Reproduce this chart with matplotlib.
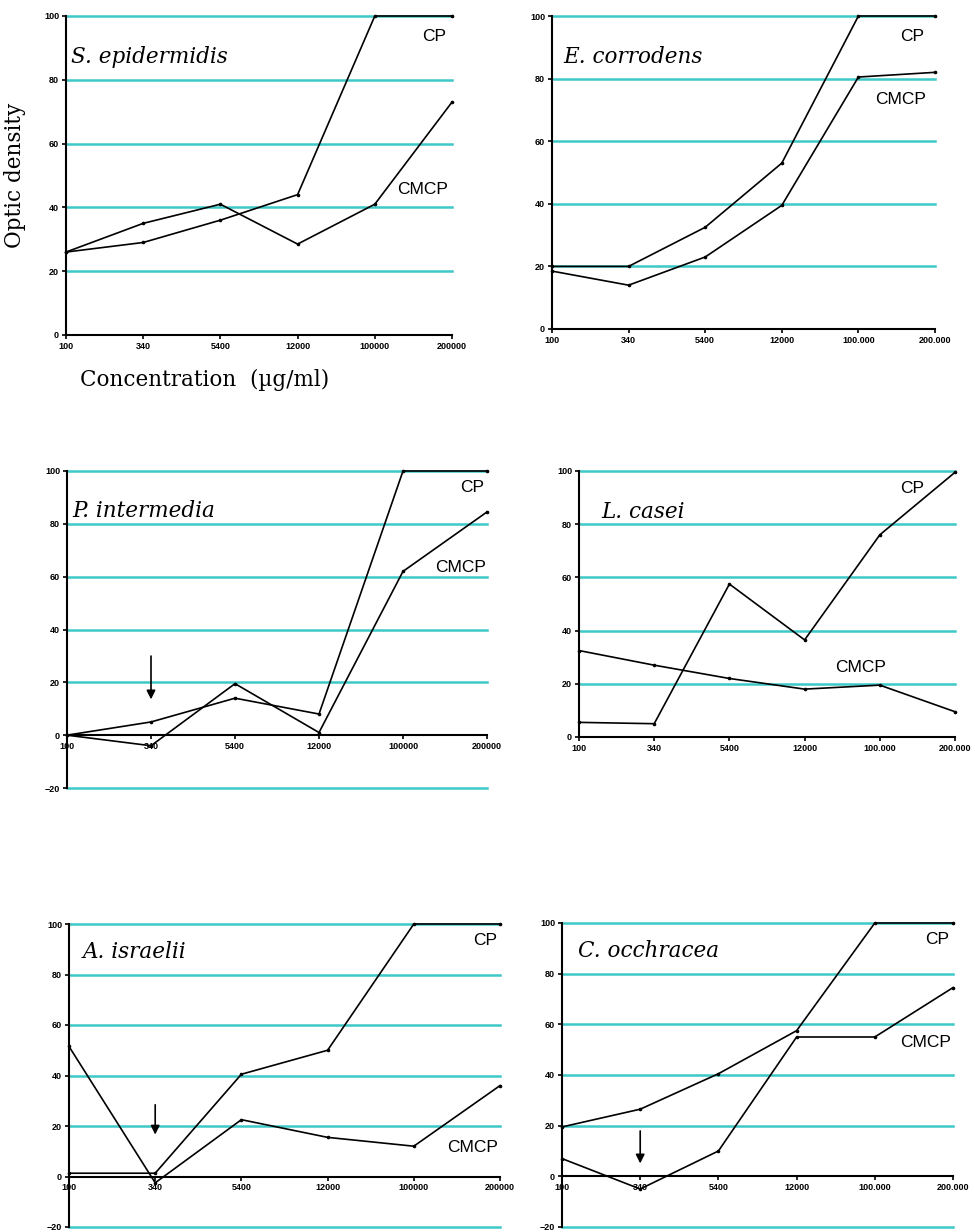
import matplotlib
matplotlib.use("Agg")
import matplotlib.pyplot as plt
import numpy as np

# categories (concentration, ug/ml)
conc_left = ["100", "340", "5400", "12000", "100000", "200000"]
conc_right = ["100", "340", "5400", "12000", "100.000", "200.000"]

# optic density values
sepi_cp = [26, 29, 36, 44, 100, 100]
sepi_cmcp = [26, 35, 41, 28.5, 41, 73]

ecor_cp = [20, 20, 32.5, 53, 100, 100]
ecor_cmcp = [18.5, 14, 23, 39.5, 80.5, 82]

pint_cp = [0, 5, 14, 8, 100, 100]
pint_cmcp = [0, -4, 19.5, 1, 62, 84.5]

lcas_cp = [5.5, 5, 57.5, 36.5, 76, 99.5]
lcas_cmcp = [32.5, 27, 22, 18, 19.5, 9.5]

aisr_cp = [1.3, 1.3, 40.5, 50, 100, 100]
aisr_cmcp = [51.5, -2.5, 22.5, 15.5, 12, 36]

cocc_cp = [19.5, 26.5, 40.5, 57.5, 100, 100]
cocc_cmcp = [7, -5, 10, 55, 55, 74.5]

GRID = "#3ec8c8"

fig = plt.figure(figsize=(9.75, 12.32), dpi=100)


def panel(rect, name, cp, cmcp, xlabels, ymin, name_x, name_y, cp_pos, cmcp_pos, arrow=None):
    ax = fig.add_axes(rect)
    x = np.arange(len(cp))
    ax.set_xlim(0, len(cp) - 1)
    ax.set_ylim(ymin, 100)
    for g in range(ymin, 101, 20):
        if g != 0:
            ax.axhline(g, color=GRID, lw=1.8, zorder=1, clip_on=False)
    ax.plot(x, cp, color="black", lw=1.2, marker="o", ms=1.6, zorder=3, clip_on=False)
    ax.plot(x, cmcp, color="black", lw=1.2, marker="o", ms=1.6, zorder=3, clip_on=False)
    for s in ["top", "right"]:
        ax.spines[s].set_visible(False)
    ax.spines["left"].set_linewidth(1.5)
    ax.spines["bottom"].set_linewidth(1.5)
    if ymin < 0:
        ax.spines["bottom"].set_position(("data", 0))
    ax.set_xticks(x)
    ax.set_xticklabels(xlabels)
    ax.set_yticks(range(ymin, 101, 20))
    ax.tick_params(axis="both", direction="out", length=3, width=1.2,
                   labelsize=6.5, pad=2)
    for t in ax.get_xticklabels() + ax.get_yticklabels():
        t.set_fontweight("bold")
        t.set_family("Liberation Sans")
    ax.text(name_x, name_y, name, family="DejaVu Serif", style="italic",
            fontsize=15.5, va="center", ha="left", zorder=4)
    ax.text(cp_pos[0], cp_pos[1], "CP", family="Liberation Sans", fontsize=12.5,
            va="center", ha="left", zorder=4)
    ax.text(cmcp_pos[0], cmcp_pos[1], "CMCP", family="Liberation Sans", fontsize=12.5,
            va="center", ha="left", zorder=4)
    if arrow is not None:
        ax.annotate("", xy=(1, arrow[1]), xytext=(1, arrow[0]),
                    arrowprops=dict(arrowstyle="-|>", color="black", lw=1.2,
                                    mutation_scale=13), zorder=5)
    return ax


panel([66 / 975, 1 - 335 / 1232, 386 / 975, 319 / 1232], "S. epidermidis",
      sepi_cp, sepi_cmcp, conc_left, 0, 0.07, 87, (4.61, 93.7), (4.29, 45.5))
panel([552 / 975, 1 - 329 / 1232, 383 / 975, 313 / 1232], "E. corrodens",
      ecor_cp, ecor_cmcp, conc_right, 0, 0.15, 87, (4.54, 93.6), (4.22, 73.2))
panel([67 / 975, 1 - 788 / 1232, 420 / 975, 317 / 1232], "P. intermedia",
      pint_cp, pint_cmcp, conc_left, -20, 0.06, 85, (4.68, 93.6), (4.38, 63.6),
      arrow=(31, 12.5))
panel([579 / 975, 1 - 737 / 1232, 376 / 975, 266 / 1232], "L. casei",
      lcas_cp, lcas_cmcp, conc_right, 0, 0.3, 84.6, (4.27, 93.6), (3.40, 26))
panel([69 / 975, 1 - 1227 / 1232, 431 / 975, 303 / 1232], "A. israelii",
      aisr_cp, aisr_cmcp, conc_left, -20, 0.16, 89, (4.69, 93.3), (4.39, 11.5),
      arrow=(29.5, 15.5))
panel([562 / 975, 1 - 1227 / 1232, 391 / 975, 304 / 1232], "C. occhracea",
      cocc_cp, cocc_cmcp, conc_right, -20, 0.2, 89, (4.64, 93.3), (4.32, 52.8),
      arrow=(19, 4))

fig.text(15 / 975, 1 - 175 / 1232, "Optic density", family="DejaVu Serif",
         fontsize=15.5, rotation=90, ha="center", va="center")
fig.text(205 / 975, 1 - 380 / 1232, "Concentration  (\u00b5g/ml)", family="DejaVu Serif",
         fontsize=15.5, ha="center", va="center")

fig.savefig("out.png", dpi=100, facecolor="white")
